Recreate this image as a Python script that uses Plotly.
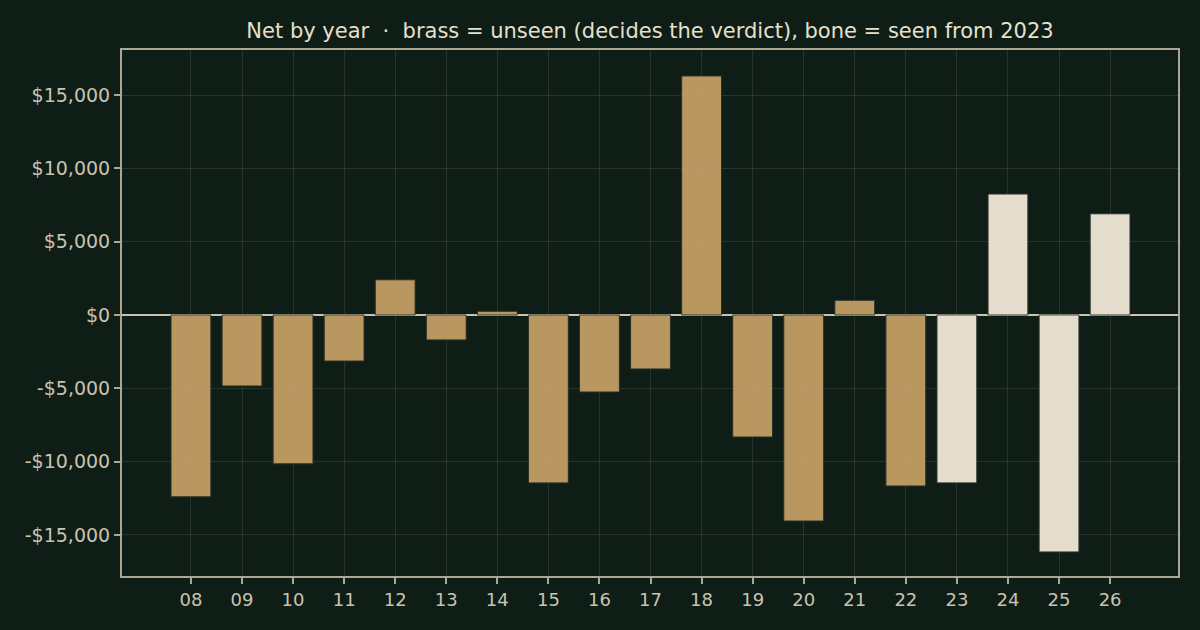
import plotly.graph_objects as go

years = ["08", "09", "10", "11", "12", "13", "14", "15", "16", "17",
         "18", "19", "20", "21", "22", "23", "24", "25", "26"]
net = [-12400, -4840, -10150, -3140, 2400, -1700, 250, -11450, -5250, -3680,
       16300, -8320, -14050, 1000, -11660, -11450, 8250, -16160, 6900]
seen_from = "23"

BG = "#0f1d17"
BRASS = "#c29e66"
BONE = "#f0e8d7"
INK = "#c9c3b0"
AXIS = "#aca794"

colors = [BONE if y >= seen_from else BRASS for y in years]

fig = go.Figure(go.Bar(
    x=years, y=net,
    marker=dict(color=colors, opacity=0.95, line=dict(color="#2c3328", width=1)),
    width=0.78,
))

fig.update_layout(
    width=1200, height=630,
    paper_bgcolor=BG, plot_bgcolor=BG,
    margin=dict(l=122, r=22, t=50, b=54),
    font=dict(family="DejaVu Sans", size=18, color=INK),
    title=dict(text="Net by year  ·  brass = unseen (decides the verdict), bone = seen from 2023",
               xref="paper", x=0.5, xanchor="center", y=0.951, yanchor="middle",
               font=dict(size=21, color="#e6e0cc")),
    showlegend=False,
)
fig.update_xaxes(
    type="category", range=[-1.35, 19.33],
    showline=True, linecolor=AXIS, linewidth=2, mirror=True,
    ticks="outside", ticklen=6, tickcolor=AXIS, tickwidth=2,
    showgrid=True, gridcolor="rgba(255,255,255,0.1)",
    tickfont=dict(size=18, color=INK),
)
fig.update_yaxes(
    range=[-17800, 18070],
    tickvals=[-15000, -10000, -5000, 0, 5000, 10000, 15000],
    ticktext=["-$15,000", "-$10,000", "-$5,000", "$0", "$5,000", "$10,000", "$15,000"],
    showline=True, linecolor=AXIS, linewidth=2, mirror=True,
    ticks="outside", ticklen=6, tickcolor=AXIS, tickwidth=2,
    showgrid=True, gridcolor="rgba(255,255,255,0.1)",
    zeroline=True, zerolinecolor="#c9c3b0", zerolinewidth=2,
    tickfont=dict(size=19, color=INK),
)

fig.write_html("out.html", config={"displayModeBar": False},
               post_script="document.body.style.margin='0';")
